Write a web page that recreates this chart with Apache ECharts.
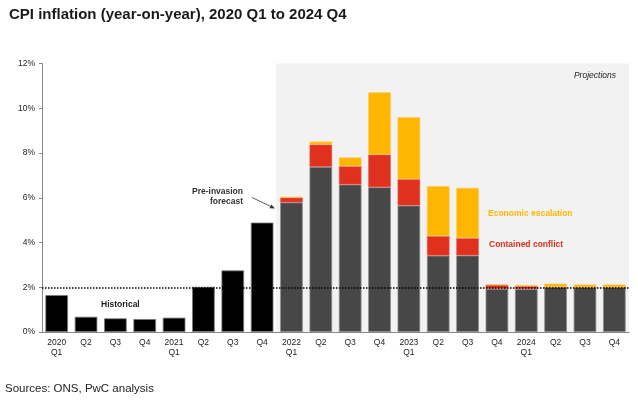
<!DOCTYPE html>
<html>
<head>
<meta charset="utf-8">
<script src="https://cdn.jsdelivr.net/npm/echarts@6/dist/echarts.min.js"></script>
<style>
  html, body { margin: 0; padding: 0; background: #fff; }
  #cpiChart { width: 638px; height: 402px; }
</style>
</head>
<body>
<div id="cpiChart"></div>
<script>
var quarters = ['2020\nQ1', 'Q2', 'Q3', 'Q4', '2021\nQ1', 'Q2', 'Q3', 'Q4',
    '2022\nQ1', 'Q2', 'Q3', 'Q4', '2023\nQ1', 'Q2', 'Q3', 'Q4',
    '2024\nQ1', 'Q2', 'Q3', 'Q4'];
var historical = [1.65, 0.68, 0.61, 0.58, 0.64, 2.02, 2.75, 4.89,
    null, null, null, null, null, null, null, null, null, null, null, null];
var preInvasion = [null, null, null, null, null, null, null, null,
    5.79, 7.38, 6.59, 6.47, 5.65, 3.41, 3.42, 1.93, 1.92, 2.01, 2.00, 2.00];
var containedConflict = [null, null, null, null, null, null, null, null,
    0.22, 1.00, 0.82, 1.46, 1.18, 0.88, 0.78, 0.18, 0.13, 0, 0, 0];
var economicEscalation = [null, null, null, null, null, null, null, null,
    0.03, 0.13, 0.39, 2.78, 2.77, 2.23, 2.24, 0, 0.05, 0.15, 0.12, 0.12];
// shaded projections period
var projectionShade = [null, null, null, null, null, null, null, null,
    12, 12, 12, 12, 12, 12, 12, 12, 12, 12, 12, 12];
var target = 2;

var font = "'Liberation Sans', Arial, sans-serif";

function label(x, y, text, opts) {
    var style = {
        text: text,
        x: x,
        y: y,
        fontFamily: font,
        fontSize: 8.5,
        fontWeight: 'bold',
        fill: '#222',
        align: 'left',
        verticalAlign: 'middle'
    };
    for (var k in opts) style[k] = opts[k];
    return { type: 'text', z: 100, style: style };
}

getechart("cpiChart", {
    animation: false,
    textStyle: { fontFamily: font },
    title: {
        text: 'CPI inflation (year-on-year), 2020 Q1 to 2024 Q4',
        left: 4,
        top: 2,
        textStyle: { fontSize: 15, fontWeight: 'bold', color: '#1a1a1a', fontFamily: font }
    },
    grid: { left: 42, right: 9, top: 63.5, bottom: 70 },
    xAxis: [
        {
            type: 'category',
            data: quarters,
            axisLine: { lineStyle: { color: '#888', width: 1 } },
            axisTick: { show: false },
            axisLabel: { color: '#222', fontSize: 8.5, margin: 6, lineHeight: 10, interval: 0 }
        },
        {
            type: 'category',
            data: quarters,
            show: false
        }
    ],
    yAxis: {
        type: 'value',
        min: 0,
        max: 12,
        interval: 2,
        axisLine: { show: true, lineStyle: { color: '#888', width: 1 } },
        axisTick: { show: true, length: 3, lineStyle: { color: '#888' } },
        splitLine: { show: false },
        axisLabel: { formatter: '{value}%', color: '#222', fontSize: 8.5, margin: 7 }
    },
    series: [
        {
            name: 'Projections',
            type: 'bar',
            xAxisIndex: 1,
            barWidth: '104%',
            z: 0,
            silent: true,
            itemStyle: { color: '#f2f2f2' },
            data: projectionShade
        },
        {
            name: 'Historical',
            type: 'bar',
            stack: 'cpi',
            barCategoryGap: '23%',
            itemStyle: { color: '#000', borderColor: '#7a7a7a', borderWidth: 0.8 },
            data: historical
        },
        {
            name: 'Pre-invasion forecast',
            type: 'bar',
            stack: 'cpi',
            itemStyle: { color: '#474747', borderColor: '#8a8a8a', borderWidth: 0.8 },
            data: preInvasion,
            markLine: {
                silent: true,
                symbol: 'none',
                label: { show: false },
                lineStyle: { type: 'dotted', color: '#000', width: 1.5 },
                data: [{ yAxis: target }]
            }
        },
        {
            name: 'Contained conflict',
            type: 'bar',
            stack: 'cpi',
            itemStyle: { color: '#e0301e', borderColor: '#ea6a5c', borderWidth: 0.6 },
            data: containedConflict
        },
        {
            name: 'Economic escalation',
            type: 'bar',
            stack: 'cpi',
            itemStyle: { color: '#ffb600', borderColor: '#ffcb4d', borderWidth: 0.6 },
            data: economicEscalation
        }
    ],
    graphic: [
        label(616, 76, 'Projections', { fontStyle: 'italic', fontWeight: 'normal', align: 'right' }),
        label(101, 305, 'Historical'),
        label(243, 192, 'Pre-invasion', { align: 'right', fill: '#333' }),
        label(243, 202, 'forecast', { align: 'right', fill: '#333' }),
        {
            type: 'line',
            z: 100,
            shape: { x1: 252, y1: 197.5, x2: 272, y2: 207 },
            style: { stroke: '#333', lineWidth: 0.8 }
        },
        {
            type: 'polygon',
            z: 100,
            shape: { points: [[275, 208.5], [269.5, 208.2], [271.3, 204.4]] },
            style: { fill: '#333' }
        },
        label(488, 214, 'Economic escalation', { fill: '#ffb600' }),
        label(489, 245, 'Contained conflict', { fill: '#e0301e' }),
        label(5, 389, 'Sources: ONS, PwC analysis', { fontSize: 11.5, fontWeight: 'normal' })
    ]
});

function getechart(idName, idOption) {
    var chart = echarts.init(document.getElementById(idName));
    chart.setOption(idOption);
    window.addEventListener('resize', function () {
        chart.resize();
    });
}
</script>
</body>
</html>
